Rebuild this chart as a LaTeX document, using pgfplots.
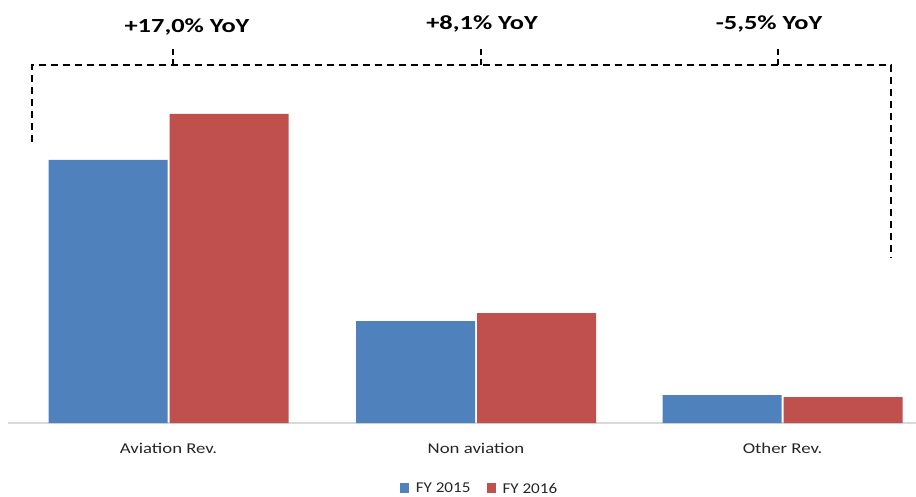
\documentclass[border=0pt]{standalone}
\usepackage{fontspec}
\setmainfont{Carlito}
\usepackage{graphicx}
\usepackage{pgfplots}
\pgfplotsset{compat=1.18}
\definecolor{fyblue}{HTML}{4F81BD}
\definecolor{fyred}{HTML}{C0504D}
\definecolor{axgray}{HTML}{D9D9D9}
\newcommand{\hs}[2]{\scalebox{#1}[1]{#2}}
\begin{document}
\begin{tikzpicture}
\begin{axis}[
  at={(0pt,0pt)}, anchor=south west,
  scale only axis, width=908pt, height=423pt,
  xmin=8, xmax=916, ymin=0, ymax=423,
  axis x line*=bottom, axis y line=none,
  x axis line style={draw=axgray, line width=1.6pt, -},
  xtick={168.5,476,782.5},
  xticklabels={\hs{1.25}{Aviation Rev.},\hs{1.25}{Non aviation},\hs{1.25}{Other Rev.}},
  major tick length=0pt,
  xticklabel style={anchor=base, yshift=-30pt, font=\fontsize{15}{18}\selectfont, text=black!85},
  ybar=2pt, bar width=119,
  clip=false,
  legend columns=2,
  legend style={draw=none, fill=none, inner sep=0pt, outer sep=0pt,
    at={(axis cs:478.5,-70)}, anchor=south,
    font=\fontsize{15}{18}\selectfont,
    nodes={inner sep=0pt, text depth=0pt, text=black!85},
    /tikz/every odd column/.append style={column sep=7pt},
    /tikz/every even column/.append style={column sep=16pt}},
  legend image code/.code={\fill[#1] (0pt,-5pt) rectangle (9pt,5pt);},
]
\addplot[fill=fyblue, draw=none] coordinates {(168.5,263) (476,102) (782.5,28)};
\addplot[fill=fyred, draw=none] coordinates {(168.5,309) (476,110) (782.5,26)};
\legend{\hs{1.14}{FY 2015}, \hs{1.14}{FY 2016}}
\draw[line width=1.6pt, dash pattern=on 7pt off 5pt] (axis cs:32,281) -- (axis cs:32,358) -- (axis cs:891,358) -- (axis cs:891,165);
\draw[line width=1.6pt, dash pattern=on 6pt off 4pt] (axis cs:173,358) -- (axis cs:173,375);
\draw[line width=1.6pt, dash pattern=on 6pt off 4pt] (axis cs:481,358) -- (axis cs:481,377);
\draw[line width=1.6pt, dash pattern=on 6pt off 4pt] (axis cs:778,358) -- (axis cs:778,377);
\node[anchor=base, inner sep=0pt, font=\bfseries\fontsize{20}{24}\selectfont] at (axis cs:187,390) {\hs{1.32}{+17,0\% YoY}};
\node[anchor=base, inner sep=0pt, font=\bfseries\fontsize{20}{24}\selectfont] at (axis cs:482,393) {\hs{1.32}{+8,1\% YoY}};
\node[anchor=base, inner sep=0pt, font=\bfseries\fontsize{20}{24}\selectfont] at (axis cs:769,393) {\hs{1.32}{-5,5\% YoY}};
\end{axis}
\pgfresetboundingbox
\path (-8pt,-73pt) rectangle (908pt,423pt);
\end{tikzpicture}
\end{document}
